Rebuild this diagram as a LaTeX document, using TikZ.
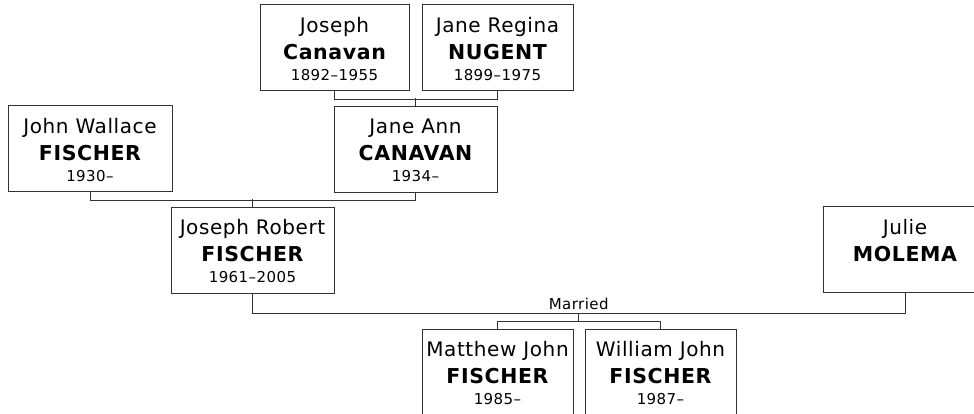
\documentclass[tikz,border=0pt]{standalone}
\usepackage{fontspec}
\setmainfont{DejaVu Sans}[LetterSpace=3]
\usetikzlibrary{calc}

\tikzset{
  persona/.style={draw=black!80, line width=1pt, fill=white, minimum height=86pt, inner sep=0pt},
  legame/.style={draw=black!80, line width=0.9pt},
  nome/.style={anchor=base, inner sep=0pt, font=\fontsize{20}{24}\selectfont},
  cognome/.style={anchor=base, inner sep=0pt, font=\fontsize{20.5}{24}\selectfont\bfseries},
  anni/.style={anchor=base, inner sep=0pt, font=\fontsize{15}{18}\selectfont},
}

% riquadro di una persona: nome, larghezza, nome proprio, cognome
\newcommand{\persona}[5]{%
  \node[persona, minimum width=#3] (#1) at (#2) {};
  \node[nome] (#1-n) at ($(#1.north)+(0,28)$) {#4};
  \node[cognome] (#1-c) at ($(#1.north)+(0,55)$) {#5};
}
\newcommand{\anni}[2]{\node[anni] (#1-a) at ($(#1.north)+(0,76)$) {#2};}

\begin{document}
\begin{tikzpicture}[x=1pt, y=-1pt]
    \clip (0,0) rectangle (974,413);
    \fill[white] (0,0) rectangle (974,413);

    % nonni materni
    \persona{jcan}{334.5,47.5}{149pt}{Joseph}{Canavan}
    \anni{jcan}{1892–1955}
    \persona{jnug}{497.5,47.5}{151pt}{Jane Regina}{NUGENT}
    \anni{jnug}{1899–1975}

    % genitori
    \persona{jwf}{90,148.5}{164pt}{John Wallace}{FISCHER}
    \anni{jwf}{1930–}
    \persona{jann}{415.5,149}{163pt}{Jane Ann}{CANAVAN}
    \anni{jann}{1934–}

    % coppia
    \persona{jrf}{252.5,250}{163pt}{Joseph Robert}{FISCHER}
    \anni{jrf}{1961–2005}
    \persona{jmol}{905,249.5}{164pt}{Julie}{MOLEMA}

    % figli
    \persona{mjf}{497.5,372}{151pt}{Matthew John}{FISCHER}
    \anni{mjf}{1985–}
    \persona{wjf}{660.5,372}{151pt}{William John}{FISCHER}
    \anni{wjf}{1987–}

    % legami
    \draw[legame] (jcan.south) -- ++(0,8) -| (jnug.south);
    \draw[legame] (jann.north) -- ++(0,-8);
    \draw[legame] (jwf.south) -- ++(0,8) -| (jann.south);
    \draw[legame] (jrf.north) -- ++(0,-8);
    \draw[legame] (jrf.south) -- ++(0,20) -| coordinate[pos=.25] (nozze)
        node[pos=.25, anchor=base, yshift=4pt, inner sep=0pt, font=\fontsize{15}{18}\selectfont] (sposati) {Married}
        (jmol.south);
    \draw[legame] (nozze) -- ++(0,8) coordinate (figli);
    \draw[legame] (mjf.north) |- (figli) -| (wjf.north);
\end{tikzpicture}
\end{document}
